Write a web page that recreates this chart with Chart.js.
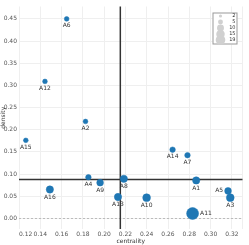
<!DOCTYPE html>
<html>
<head>
<meta charset="utf-8">
<script src="https://cdn.jsdelivr.net/npm/chart.js@4/dist/chart.umd.min.js"></script>
<style>
  html, body { margin: 0; padding: 0; background: #fff; }
  #wrap { width: 249px; height: 245px; }
</style>
</head>
<body>
<div id="wrap"><canvas id="scatter"></canvas></div>
<script>
const names = ['A1','A2','A3','A4','A5','A6','A7','A8','A9','A10','A11','A12','A13','A14','A15','A16'];
const centrality = [0.2865, 0.1825, 0.3185, 0.1852, 0.3164, 0.1648, 0.2783, 0.2185, 0.1962, 0.2399, 0.2831, 0.1444, 0.2130, 0.2643, 0.1264, 0.1490];
const density = [0.0855, 0.2186, 0.0467, 0.0928, 0.0620, 0.4500, 0.1425, 0.0893, 0.0805, 0.0467, 0.0110, 0.3090, 0.0482, 0.1550, 0.1760, 0.0651];
const sizes = [7, 3, 8, 4, 6, 3, 4, 7, 6, 8, 19, 3, 7, 4, 3, 7];

const xTicks = [0.12, 0.14, 0.16, 0.18, 0.20, 0.22, 0.24, 0.26, 0.28, 0.30, 0.32];
const yTicks = [0.00, 0.05, 0.10, 0.15, 0.20, 0.25, 0.30, 0.35, 0.40, 0.45];
const legendSizes = [2, 5, 10, 15, 19];

// reference lines
const centralityCut = 0.2152;
const densityCut = 0.0877;

// where a label sits relative to its point (default is below)
const labelSide = { A11: 'right', A5: 'left' };

const maxSize = 19;
const maxRadius = 6;
const radiusOf = s => maxRadius * Math.sqrt(s / maxSize);

const FONT = 'DejaVu Sans';

const points = names.map((n, i) => ({ x: centrality[i], y: density[i], r: radiusOf(sizes[i]) }));

const refLines = {
  id: 'refLines',
  beforeDatasetsDraw(chart) {
    const { ctx, chartArea: a, scales: { x, y } } = chart;
    ctx.save();
    // zero rule
    ctx.strokeStyle = '#bbbbbb';
    ctx.lineWidth = 1;
    ctx.setLineDash([2, 2]);
    let y0 = Math.round(y.getPixelForValue(0)) + 0.5;
    ctx.beginPath(); ctx.moveTo(a.left, y0); ctx.lineTo(a.right, y0); ctx.stroke();
    ctx.setLineDash([]);
    // cut lines
    ctx.strokeStyle = '#333';
    ctx.lineWidth = 1.5;
    let xc = x.getPixelForValue(centralityCut);
    let yc = y.getPixelForValue(densityCut);
    ctx.beginPath(); ctx.moveTo(xc, a.top); ctx.lineTo(xc, a.bottom); ctx.stroke();
    ctx.beginPath(); ctx.moveTo(a.left, yc); ctx.lineTo(a.right, yc); ctx.stroke();
    ctx.restore();
  }
};

const pointLabels = {
  id: 'pointLabels',
  afterDatasetsDraw(chart) {
    const { ctx } = chart;
    const meta = chart.getDatasetMeta(0);
    ctx.save();
    ctx.font = '6px "' + FONT + '"';
    ctx.fillStyle = '#333';
    meta.data.forEach((el, i) => {
      const r = points[i].r;
      const side = labelSide[names[i]];
      if (side === 'right') {
        ctx.textAlign = 'left'; ctx.textBaseline = 'middle';
        ctx.fillText(names[i], el.x + r + 1.5, el.y);
      } else if (side === 'left') {
        ctx.textAlign = 'right'; ctx.textBaseline = 'middle';
        ctx.fillText(names[i], el.x - r - 1.5, el.y);
      } else {
        ctx.textAlign = 'center'; ctx.textBaseline = 'middle';
        ctx.fillText(names[i], el.x, el.y + r + 4.2);
      }
    });
    ctx.restore();
  }
};

const sizeLegend = {
  id: 'sizeLegend',
  afterDraw(chart) {
    const { ctx, chartArea: a } = chart;
    const right = a.right - 5, top = a.top + 6;
    const w = 25, h = 32;
    ctx.save();
    ctx.fillStyle = '#fff';
    ctx.strokeStyle = '#999';
    ctx.lineWidth = 1;
    ctx.fillRect(right - w, top, w, h);
    ctx.strokeRect(right - w + 0.5, top + 0.5, w - 1, h - 1);
    ctx.font = '5px "' + FONT + '"';
    ctx.textAlign = 'right';
    ctx.textBaseline = 'middle';
    legendSizes.forEach((s, i) => {
      const cy = top + 3.5 + i * 6;
      const r = radiusOf(s) * 0.8;
      ctx.beginPath();
      ctx.arc(right - w + 8, cy, r, 0, Math.PI * 2);
      ctx.fillStyle = '#d0d0d0';
      ctx.fill();
      ctx.fillStyle = '#333';
      ctx.fillText(String(s), right - 2, cy);
    });
    ctx.restore();
  }
};

new Chart(document.getElementById('scatter'), {
  type: 'bubble',
  data: {
    datasets: [{
      data: points,
      backgroundColor: '#1f77b4',
      borderColor: '#1f77b4',
      borderWidth: 0.5,
      hoverBorderWidth: 0.5
    }]
  },
  options: {
    responsive: true,
    maintainAspectRatio: false,
    animation: false,
    layout: { padding: 0 },
    plugins: { legend: { display: false }, tooltip: { enabled: false } },
    scales: {
      x: {
        type: 'linear',
        min: 0.12,
        max: 0.33,
        afterBuildTicks: s => { s.ticks = xTicks.concat([0.33]).map(v => ({ value: v })); },
        afterFit: s => { s.height = 16; s.paddingLeft = 0; s.paddingRight = 0; },
        ticks: {
          align: 'inner',
          padding: 2,
          maxRotation: 0,
          autoSkip: false,
          color: '#555',
          font: { family: FONT, size: 6 },
          callback: v => xTicks.includes(v) ? v.toFixed(2) : ''
        },
        grid: { color: '#efefef', drawTicks: false },
        border: { display: false },
        title: { display: true, text: 'centrality', color: '#333', padding: 0, font: { family: FONT, size: 6 } }
      },
      y: {
        type: 'linear',
        min: -0.024,
        max: 0.478,
        afterBuildTicks: s => { s.ticks = yTicks.map(v => ({ value: v })); },
        afterFit: s => { s.width = 19; s.paddingTop = 0; s.paddingBottom = 0; },
        ticks: {
          padding: 2,
          autoSkip: false,
          color: '#555',
          font: { family: FONT, size: 6 },
          callback: v => v.toFixed(2)
        },
        grid: { color: '#efefef', drawTicks: false },
        border: { display: false },
        title: { display: true, text: 'density', color: '#333', padding: 0, font: { family: FONT, size: 6 } }
      }
    }
  },
  plugins: [refLines, pointLabels, sizeLegend]
});
</script>
</body>
</html>
